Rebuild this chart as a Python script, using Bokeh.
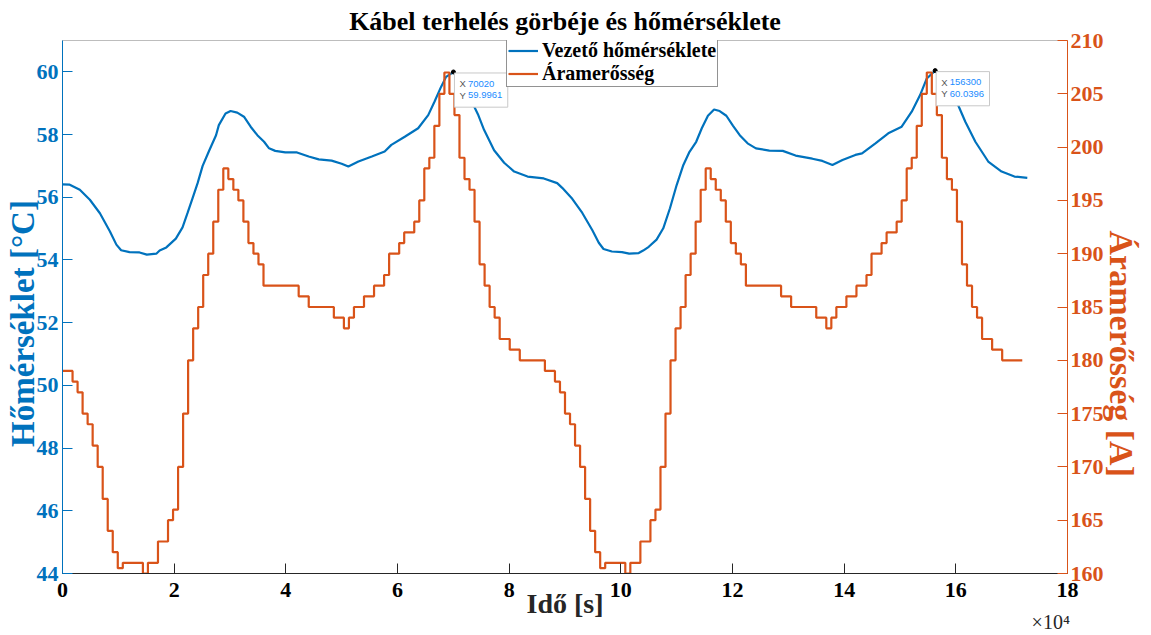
from bokeh.plotting import figure
from bokeh.models import (Range1d, LinearAxis, Label, Legend, LegendItem,
                          FixedTicker, CustomJSTickFormatter)
from bokeh.embed import file_html
from bokeh.resources import INLINE

# ---------------- data ----------------
step_seconds = 900  # 15-minute load steps
current_day = [179, 179, 178, 177, 175, 174, 172, 170, 167, 164, 162, 160.5,
               161, 161, 161, 161, 160, 161, 161, 163, 163, 165, 166, 170,
               175, 180, 183, 185, 188, 190, 193, 196, 198, 197, 196, 195,
               193, 191, 190, 189, 187, 187, 187, 187, 187, 187, 187, 186,
               186, 185, 185, 185, 185, 185, 184, 184, 183, 184, 185, 185,
               186, 186, 187, 187, 188, 190, 190, 191, 192, 192, 193, 195,
               198, 199, 202, 205, 207, 205, 203, 199, 197, 196, 193, 189,
               187, 185, 184, 182, 182, 181, 181, 180, 180, 180, 180, 180]
current = current_day + current_day
current_time = [i * step_seconds for i in range(len(current))]

temp_time = [0, 1300, 3100, 4900, 6700, 8500, 9650, 10500, 12000, 13800,
             15100, 16800, 17400, 18600, 20300, 21500, 22400, 23300, 24200,
             25100, 26300, 27500, 28000, 29200, 30100, 31300, 32500, 33700,
             34900, 36100, 37000, 38100, 39900, 42000, 44100, 45900, 48200,
             50000, 51200, 53000, 55400, 57700, 58900, 61300, 63700, 65500,
             66600, 67800, 68700, 70020, 70800, 71700, 72900, 74400, 75500,
             77300, 79100, 80900, 83300, 86200, 88600, 89500, 91300, 93100,
             94900, 96050, 96900, 98400, 100200, 101500, 103200, 104000,
             105000, 106400, 107600, 108800, 110000, 111200, 112300, 113500,
             114500, 115600, 116700, 117700, 118900, 120100, 121300, 122700,
             124200, 126600, 129000, 131300, 134300, 136100, 137900, 139700,
             142000, 143200, 145600, 147900, 150300, 152100, 153600, 154800,
             156300, 157500, 158700, 159900, 161700, 163500, 165800, 168200,
             170500, 172800]
temp_value = [56.41, 56.40, 56.24, 55.92, 55.49, 54.91, 54.49, 54.31, 54.25,
              54.24, 54.17, 54.20, 54.30, 54.40, 54.68, 55.04, 55.50, 55.97,
              56.45, 57.00, 57.50, 57.98, 58.30, 58.67, 58.75, 58.70, 58.57,
              58.25, 57.98, 57.77, 57.56, 57.48, 57.43, 57.43, 57.30, 57.21,
              57.17, 57.07, 56.98, 57.14, 57.30, 57.46, 57.67, 57.93, 58.20,
              58.62, 59.04, 59.52, 59.84, 59.9961, 59.85, 59.55, 59.20, 58.65,
              58.15, 57.50, 57.10, 56.82, 56.66, 56.60, 56.45, 56.30, 55.95,
              55.50, 54.95, 54.55, 54.35, 54.27, 54.25, 54.20, 54.22, 54.30,
              54.42, 54.65, 55.01, 55.65, 56.39, 57.03, 57.45, 57.77, 58.20,
              58.60, 58.80, 58.75, 58.60, 58.28, 57.98, 57.72, 57.56, 57.49,
              57.48, 57.33, 57.23, 57.16, 57.03, 57.19, 57.35, 57.40, 57.72,
              58.04, 58.25, 58.73, 59.26, 59.79, 60.0396, 59.85, 59.50, 59.15,
              58.41, 57.77, 57.14, 56.82, 56.66, 56.62]

tips = [(70020, 59.9961), (156300, 60.0396)]
x_ticks = list(range(0, 180001, 20000))
left_ticks = list(range(44, 61, 2))
right_ticks = list(range(160, 211, 5))
exponent_text = "×10⁴"

BLUE = "#0072BD"
ORANGE = "#D95319"
DARK = "#262626"
SERIF = "Liberation Serif"
SANS = "Liberation Sans"
NBSP = "\u00a0"

W, H = 1151, 635
p = figure(width=W, height=H, output_backend="svg", toolbar_location=None,
           x_range=Range1d(0, 180000), y_range=Range1d(44, 61),
           min_border_left=62, min_border_right=W - 1067, min_border_top=39,
           min_border_bottom=H - 573)
p.extra_y_ranges = {"amp": Range1d(160, 210)}
p.grid.visible = False
p.outline_line_color = "#bdbdbd"
p.background_fill_color = "white"

p.title.text = "Kábel terhelés görbéje és hőmérséklete"
p.title.align = "center"
p.title.text_font = SERIF
p.title.text_font_size = "26px"
p.title.text_font_style = "bold"
p.title.text_color = "black"
p.title.standoff = 9
p.title.offset = 0


def style_ticks(ax, color, label_color, standoff):
    ax.major_label_text_font = SERIF
    ax.major_label_text_font_style = "bold"
    ax.major_label_text_font_size = "22px"
    ax.major_label_text_color = label_color
    ax.major_label_standoff = standoff
    ax.major_tick_in = 10
    ax.major_tick_out = 0
    ax.minor_tick_line_color = None
    ax.axis_line_color = color
    ax.major_tick_line_color = color


def label_only(ax, text, color, size, style, standoff):
    ax.axis_label = text
    ax.axis_label_text_font = SERIF
    ax.axis_label_text_font_style = style
    ax.axis_label_text_font_size = size
    ax.axis_label_text_color = color
    ax.axis_label_text_line_height = 1.0
    ax.axis_label_standoff = standoff
    ax.axis_line_color = None
    ax.major_tick_line_color = None
    ax.minor_tick_line_color = None
    ax.major_label_standoff = 0
    ax.major_tick_in = 0
    ax.major_tick_out = 0


xa = p.xaxis[0]
xa.ticker = FixedTicker(ticks=x_ticks)
xa.formatter = CustomJSTickFormatter(code="return (tick/1e4).toFixed(0);")
style_ticks(xa, DARK, "black", 9)
xa.axis_label = "Idő [s]"
xa.axis_label_text_font = SERIF
xa.axis_label_text_font_style = "bold"
xa.axis_label_text_font_size = "28px"
xa.axis_label_text_color = DARK
xa.axis_label_standoff = -12

ya = p.yaxis[0]
ya.ticker = FixedTicker(ticks=left_ticks)
style_ticks(ya, BLUE, BLUE, 4)

ra = LinearAxis(y_range_name="amp", ticker=FixedTicker(ticks=right_ticks))
style_ticks(ra, ORANGE, ORANGE, 3)
p.add_layout(ra, "right")

# axis titles on their own tick-less axes (no-break spaces nudge them along the axis)
left_title = LinearAxis(ticker=FixedTicker(ticks=[]))
label_only(left_title, "Hőmérséklet [°C]" + NBSP * 4, BLUE, "33px", "bold", -7)
p.add_layout(left_title, "left")

right_title = LinearAxis(y_range_name="amp", ticker=FixedTicker(ticks=[]))
label_only(right_title, NBSP * 11 + "Áramerősség [A]", ORANGE, "34px", "bold", -4)
p.add_layout(right_title, "right")

# exponent marker of the x axis, as the tick label of a bare axis
exp_axis = LinearAxis(ticker=FixedTicker(ticks=[x_ticks[-1] - 3000]))
exp_axis.formatter = CustomJSTickFormatter(code=f"return '{exponent_text}';")
exp_axis.major_label_text_font = SERIF
exp_axis.major_label_text_font_size = "20px"
exp_axis.major_label_text_line_height = 1.0
exp_axis.major_label_text_color = DARK
exp_axis.major_label_standoff = -11
exp_axis.axis_line_color = None
exp_axis.major_tick_line_color = None
exp_axis.minor_tick_line_color = None
exp_axis.major_tick_in = 0
exp_axis.major_tick_out = 0
p.add_layout(exp_axis, "below")

# ---------------- series ----------------
r_temp = p.line(temp_time, temp_value, line_color=BLUE, line_width=2.2)
r_amp = p.step(current_time, current, mode="after", line_color=ORANGE,
               line_width=2.2, y_range_name="amp")

# ---------------- data tips ----------------
for tx, ty in tips:
    p.scatter([tx], [ty], size=4, color="black")
    xs = f"{tx}"
    ys = f"{ty}"
    p.add_layout(Label(x=tx, y=ty, x_offset=1, y_offset=-1,
                       text=f"X {ys}\nY {ys}", text_font=SANS,
                       text_font_size="9.5px", text_color="white",
                       text_align="left", text_baseline="top",
                       background_fill_color="white", background_fill_alpha=1.0,
                       border_line_color="#c8c8c8", border_line_width=1,
                       padding=5))
    for row, (key, val) in enumerate([("X", xs), ("Y", ys)]):
        yo = -11.7 - 11.6 * row
        p.add_layout(Label(x=tx, y=ty, x_offset=6, y_offset=yo, text=key,
                           text_font=SANS, text_font_size="9.5px",
                           text_color="#555555", text_align="left",
                           text_baseline="middle"))
        p.add_layout(Label(x=tx, y=ty, x_offset=14.5, y_offset=yo, text=val,
                           text_font=SANS, text_font_size="9.5px",
                           text_color="#1a8cff", text_align="left",
                           text_baseline="middle"))

# ---------------- legend ----------------
legend = Legend(items=[LegendItem(label="Vezető hőmérséklete", renderers=[r_temp]),
                       LegendItem(label="Áramerősség", renderers=[r_amp])],
                location=(444, 486))
legend.label_text_font = SERIF
legend.label_text_font_style = "bold"
legend.label_text_font_size = "20px"
legend.label_text_color = "black"
legend.border_line_color = DARK
legend.border_line_width = 1
legend.background_fill_color = "white"
legend.background_fill_alpha = 1.0
legend.glyph_width = 30
legend.glyph_height = 21
legend.label_height = 21
legend.label_standoff = 4
legend.spacing = 0
legend.padding = 1
legend.margin = 0
p.add_layout(legend)

open("out.html", "w").write(file_html(p, INLINE))
